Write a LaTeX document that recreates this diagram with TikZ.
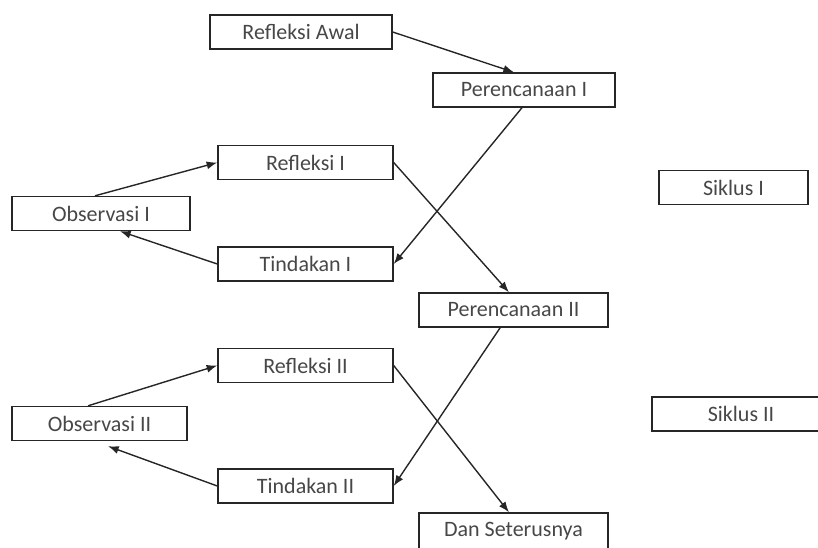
\documentclass[tikz,border=0pt]{standalone}
\usepackage{fontspec}
\setmainfont{Carlito}
\usetikzlibrary{arrows.meta}

\begin{document}
\begin{tikzpicture}[x=0.75pt, y=-0.75pt,
	box/.style={draw=black!85, line width=1.05pt, text=black!72, minimum width=#1, minimum height=25.5pt, inner sep=0pt, font=\fontsize{16.5}{19}\selectfont},
	arr/.style={draw=black!85, line width=1.05pt, -{Latex[length=8pt, width=6pt]}}]
	\useasboundingbox (0,0) rectangle (818,547);
	\clip (0,0) rectangle (818,547);
	% siklus I
	\node[box=136.5pt] (refawal) at (301,32) {Refleksi Awal};
	\node[box=136.5pt] (perI) at (524,90) {Perencanaan I};
	\node[box=111.75pt] (sikI) at (733.5,187.5) {Siklus I};
	\node[box=131.25pt] (refI) at (305.5,162.5) {Refleksi I};
	\node[box=133.5pt] (obsI) at (101,213.5) {Observasi I};
	\node[box=131.25pt] (tinI) at (305.5,264) {Tindakan I};
	% siklus II
	\node[box=141.75pt] (perII) at (513.5,310) {Perencanaan II};
	\node[box=131.25pt] (refII) at (305.5,365.5) {Refleksi II};
	\node[box=131.25pt] (obsII) at (99.5,423.5) {Observasi II};
	\node[box=131.25pt] (tinII) at (305.5,486) {Tindakan II};
	\node[box=133.5pt] (sikII) at (741,414) {Siklus II};
	\node[box=141.75pt, minimum height=27.75pt] (dst) at (513.5,531.5) {Dan Seterusnya};

	\draw[arr] (refawal.east) -- ([xshift=-7.5pt]perI.north);
	\draw[arr] ([xshift=-1.5pt]perI.south) -- (tinI.east);
	\draw[arr] (refI.east) -- ([xshift=-3.4pt]perII.north);
	\draw[arr] ([xshift=-4.5pt]obsI.north) -- (refI.west);
	\draw[arr] (tinI.west) -- ([xshift=14.25pt]obsI.south);

	\draw[arr] ([xshift=-10pt]perII.south) -- (tinII.east);
	\draw[arr] (refII.east) -- ([xshift=-3.4pt]dst.north);
	\draw[arr] ([xshift=-8.6pt]obsII.north) -- (refII.west);
	\draw[arr] (tinII.west) -- ([xshift=6.4pt, yshift=-3.75pt]obsII.south);
\end{tikzpicture}
\end{document}
